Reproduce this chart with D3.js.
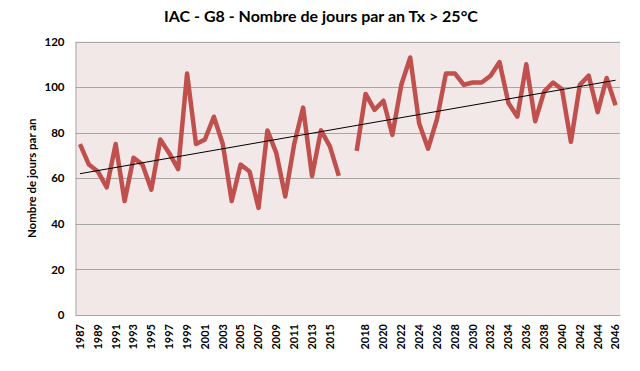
<!DOCTYPE html>
<html>
<head>
<meta charset="utf-8">
<script src="https://cdn.jsdelivr.net/npm/d3@7"></script>
<style>
  body { margin: 0; background: #ffffff; }
  svg text { font-family: Lato, "Open Sans", sans-serif; font-weight: bold; fill: #000; }
</style>
</head>
<body>
<div id="chart"></div>
<script>
// categories (one blank slot between the two periods)
var years = ["1987","1988","1989","1990","1991","1992","1993","1994","1995","1996",
             "1997","1998","1999","2000","2001","2002","2003","2004","2005","2006",
             "2007","2008","2009","2010","2011","2012","2013","2014","2015","2016",
             "",
             "2017","2018","2019","2020","2021","2022","2023","2024","2025","2026",
             "2027","2028","2029","2030","2031","2032","2033","2034","2035","2036",
             "2037","2038","2039","2040","2041","2042","2043","2044","2045","2046"];

var joursTx25 = [75, 66, 63, 56, 75, 50, 69, 66, 55, 77,
                 71, 64, 106, 75, 77, 87, 75, 50, 66, 63,
                 47, 81, 71, 52, 75, 91, 61, 81, 74, 61,
                 null,
                 72, 97, 90, 94, 79, 101, 113, 84, 73, 86,
                 106, 106, 101, 102, 102, 105, 111, 93, 87, 110,
                 85, 98, 102, 99, 76, 101, 105, 89, 104, 92];

// linear trend, value at first and last category
var trendEnds = [62, 103];

var yTicks = [0, 20, 40, 60, 80, 100, 120];

var chartWidth = 640, chartHeight = 371;
var plotLeft = 75.5, plotRight = 620, plotTop = 41.5, plotBottom = 315;

var svg = d3.select("#chart").append("svg")
  .attr("width", chartWidth)
  .attr("height", chartHeight);

var xScale = d3.scaleBand()
  .domain(d3.range(years.length))
  .range([plotLeft, plotRight])
  .padding(0);

var yScale = d3.scaleLinear()
  .domain([0, 120])
  .range([plotBottom, plotTop]);

function cx(i) { return xScale(i) + xScale.bandwidth() / 2; }

// plot background
svg.append("rect")
  .attr("x", plotLeft)
  .attr("y", plotTop)
  .attr("width", plotRight - plotLeft)
  .attr("height", plotBottom - plotTop)
  .style("fill", "#f2e8e8");

// gridlines
svg.append("g")
  .selectAll("line")
  .data(yTicks)
  .enter().append("line")
  .attr("x1", plotLeft)
  .attr("x2", plotRight)
  .attr("y1", function(d) { return Math.round(yScale(d)) + 0.5; })
  .attr("y2", function(d) { return Math.round(yScale(d)) + 0.5; })
  .style("stroke", "#a6a6a6")
  .style("stroke-width", 1);

// y axis
var yAxis = d3.axisLeft(yScale)
  .tickValues(yTicks)
  .tickSize(0)
  .tickPadding(11);

var gy = svg.append("g")
  .attr("transform", "translate(" + plotLeft + ",0)")
  .call(yAxis);
gy.select(".domain").style("stroke", "#a6a6a6");
gy.selectAll("text").style("font-size", "11.5px").style("font-family", "Lato, sans-serif");

// x axis
var xAxis = d3.axisBottom(xScale)
  .tickValues(xScale.domain().filter(function(i) { return i % 2 === 0; }))
  .tickFormat(function(i) { return years[i]; })
  .tickSize(0);

var gx = svg.append("g")
  .attr("transform", "translate(0," + plotBottom + ")")
  .call(xAxis);
gx.select(".domain").style("stroke", "#a6a6a6");
gx.selectAll("text")
  .style("font-size", "11px")
  .style("font-family", "Lato, sans-serif")
  .attr("text-anchor", "end")
  .attr("dy", "0.35em")
  .attr("transform", "translate(0,9) rotate(-90)")
  .attr("x", 0)
  .attr("y", 0);

// data line
var line = d3.line()
  .defined(function(d) { return d !== null; })
  .x(function(d, i) { return cx(i); })
  .y(function(d) { return yScale(d); });

svg.append("path")
  .datum(joursTx25)
  .attr("d", line)
  .style("fill", "none")
  .style("stroke", "#c0504d")
  .style("stroke-width", 4.5)
  .style("stroke-linejoin", "round");

// trend line
svg.append("line")
  .attr("x1", cx(0))
  .attr("x2", cx(years.length - 1))
  .attr("y1", yScale(trendEnds[0]))
  .attr("y2", yScale(trendEnds[1]))
  .style("stroke", "#000")
  .style("stroke-width", 1);

// title
svg.append("text")
  .attr("x", 321)
  .attr("y", 22)
  .attr("text-anchor", "middle")
  .style("font-size", "16px")
  .text("IAC - G8 - Nombre de jours par an Tx > 25°C");

// y label
svg.append("text")
  .attr("text-anchor", "middle")
  .attr("transform", "translate(36," + ((plotTop + plotBottom) / 2) + ") rotate(-90)")
  .style("font-size", "11.5px")
  .text("Nombre de jours par an");
</script>
</body>
</html>
